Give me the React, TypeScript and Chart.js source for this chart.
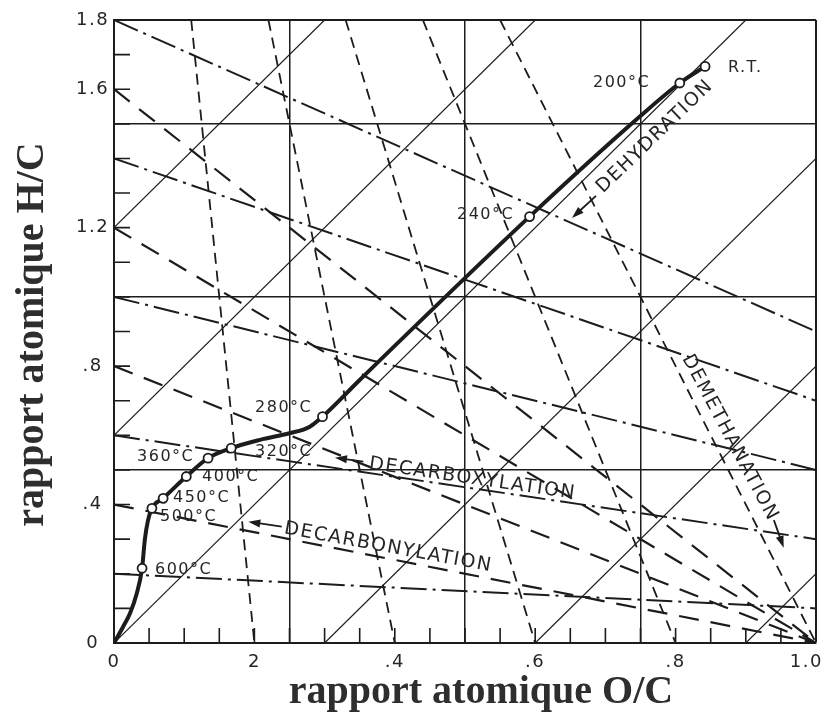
import React, { useEffect, useRef } from 'react';
import { Chart, registerables } from 'chart.js';

Chart.register(...registerables);

const INK = '#1c1c1c';
const TEXT = '#262626';
const X_MAX = 1.0;
const Y_MAX = 1.8;

// Thermal evolution path (O/C, H/C)
const pathOC = [0, 0.013, 0.023, 0.032, 0.040, 0.044, 0.048, 0.054, 0.070, 0.103, 0.134, 0.167, 0.208, 0.250, 0.279, 0.297, 0.350, 0.592, 0.749, 0.806, 0.842];
const pathHC = [0, 0.047, 0.087, 0.140, 0.216, 0.300, 0.350, 0.389, 0.418, 0.481, 0.534, 0.563, 0.587, 0.606, 0.625, 0.654, 0.760, 1.232, 1.521, 1.618, 1.666];

// Heating stages (open circles)
const stageNames = ['R.T.', '200°C', '240°C', '280°C', '320°C', '360°C', '400°C', '450°C', '500°C', '600°C'];
const stageOC = [0.842, 0.806, 0.592, 0.297, 0.167, 0.134, 0.103, 0.070, 0.054, 0.040];
const stageHC = [1.666, 1.618, 1.232, 0.654, 0.563, 0.534, 0.481, 0.418, 0.389, 0.216];
// caption anchors (left edge, vertical middle)
const captionOC = [0.8746, 0.6823, 0.4886, 0.2009, 0.2009, 0.0328, 0.1254, 0.0840, 0.0655, 0.0584];
const captionHC = [1.662, 1.6185, 1.237, 0.679, 0.552, 0.5376, 0.4798, 0.419, 0.364, 0.211];

// Reaction line families
const dehydrationIntercepts = [1.2, 0.6, 0, -0.6, -1.2, -1.8]; // H/C = 2·O/C + c
const decarboxylationStarts = [1.8, 1.4, 1.0, 0.6, 0.2]; // toward O/C = 2, H/C = 0
const DECARBOX_POLE = 2;
const decarbonylationStarts = [1.6, 1.2, 0.8, 0.4]; // toward O/C = 1, H/C = 0
const demethanationFeet = [0.2, 0.4, 0.6, 0.8, 1.0]; // from H/C = 4 at O/C = 0
const DEMETH_POLE = 4;

// Process captions and arrows
const processNames = ['DEHYDRATION', 'DECARBOXYLATION', 'DECARBONYLATION', 'DEMETHANATION'];
const processOC = [0.7707, 0.5107, 0.3907, 0.8775];
const processHC = [1.4633, 0.474, 0.276, 0.5925];
const processAngle = [-44, 8.3, 10.4, 62];
const arrowTailOC = [0.6866, 0.3552, 0.2389, 0.940];
const arrowTailHC = [1.292, 0.524, 0.336, 0.355];
const arrowHeadOC = [0.6524, 0.3148, 0.1913, 0.954];
const arrowHeadHC = [1.228, 0.5355, 0.3506, 0.275];

// Axis ticks
const xTickValues = [0, 0.05, 0.1, 0.15, 0.2, 0.25, 0.3, 0.35, 0.4, 0.45, 0.5, 0.55, 0.6, 0.65, 0.7, 0.75, 0.8, 0.85, 0.9, 0.95, 1.0];
const yTickValues = [0, 0.1, 0.2, 0.3, 0.4, 0.5, 0.6, 0.7, 0.8, 0.9, 1.0, 1.1, 1.2, 1.3, 1.4, 1.5, 1.6, 1.7, 1.8];
const xLabelValues = [0, 0.2, 0.4, 0.6, 0.8, 1.0];
const xLabels = ['0', '2', '.4', '.6', '.8', '1.0'];
const yLabelValues = [0, 0.4, 0.8, 1.2, 1.6, 1.8];
const yLabels = ['0', '.4', '.8', '1.2', '1.6', '1.8'];
const xGridValues = [0.25, 0.5, 0.75, 1.0];
const yGridValues = [0.5, 1.0, 1.5, 1.8];

const near = (a: number, b: number) => Math.abs(a - b) < 1e-6;
const labelFor = (vals: number[], labs: string[], v: number) => {
  const i = vals.findIndex((w) => near(w, v));
  return i >= 0 ? labs[i] : '';
};
const seg = (x1: number, y1: number, x2: number, y2: number) => [{ x: x1, y: y1 }, { x: x2, y: y2 }];

function dehydrationSeg(c: number) {
  const x0 = c < 0 ? -c / 2 : 0;
  const y0 = c < 0 ? 0 : c;
  let x1 = (Y_MAX - c) / 2;
  let y1 = Y_MAX;
  if (x1 > X_MAX) { x1 = X_MAX; y1 = 2 * X_MAX + c; }
  return seg(x0, y0, x1, y1);
}
const decarboxylationSeg = (h: number) => seg(0, h, X_MAX, h * (1 - X_MAX / DECARBOX_POLE));
const decarbonylationSeg = (h: number) => seg(0, h, 1, 0);
const demethanationSeg = (f: number) => seg(f * (1 - Y_MAX / DEMETH_POLE), Y_MAX, f, 0);

function lineSet(data: any[], dash: number[], width: number) {
  return {
    type: 'scatter' as const,
    data,
    showLine: true,
    borderColor: INK,
    borderWidth: width,
    borderDash: dash,
    pointRadius: 0,
    fill: false,
  };
}

const annotate = {
  id: 'annotate',
  beforeDraw(chart: any) {
    (chart.ctx as any).letterSpacing = '1.5px';
  },
  afterDatasetsDraw(chart: any) {
    const { ctx, chartArea, scales } = chart;
    const xs = scales.x;
    const ys = scales.y;
    ctx.save();
    // inner tick marks
    ctx.strokeStyle = INK;
    ctx.lineWidth = 1.6;
    ctx.setLineDash([]);
    ctx.beginPath();
    xTickValues.forEach((v) => {
      if (v <= 0 || v >= X_MAX) return;
      const px = xs.getPixelForValue(v);
      ctx.moveTo(px, chartArea.bottom);
      ctx.lineTo(px, chartArea.bottom - 15);
    });
    yTickValues.forEach((v) => {
      if (v <= 0 || v >= Y_MAX) return;
      const py = ys.getPixelForValue(v);
      ctx.moveTo(chartArea.left, py);
      ctx.lineTo(chartArea.left + 16, py);
    });
    ctx.stroke();

    // x tick labels (kept inside the canvas at the right end)
    ctx.fillStyle = TEXT;
    ctx.font = '18px "DejaVu Sans"';
    (ctx as any).letterSpacing = '1.5px';
    ctx.textAlign = 'center';
    ctx.textBaseline = 'middle';
    xLabelValues.forEach((v, i) => {
      const w = ctx.measureText(xLabels[i]).width;
      const px = Math.min(xs.getPixelForValue(v), chart.width - w / 2 - 5);
      ctx.fillText(xLabels[i], px, chartArea.bottom + 19);
    });

    // stage captions
    ctx.font = '16px "DejaVu Sans"';
    ctx.textAlign = 'left';
    stageNames.forEach((name, i) => {
      ctx.fillText(name, xs.getPixelForValue(captionOC[i]), ys.getPixelForValue(captionHC[i]));
    });

    // process captions
    ctx.font = '19px "DejaVu Sans"';
    ctx.textAlign = 'center';
    processNames.forEach((name, i) => {
      ctx.save();
      ctx.translate(xs.getPixelForValue(processOC[i]), ys.getPixelForValue(processHC[i]));
      ctx.rotate((processAngle[i] * Math.PI) / 180);
      ctx.fillText(name, 0, 0);
      ctx.restore();
    });

    // arrows
    ctx.strokeStyle = INK;
    ctx.fillStyle = INK;
    ctx.lineWidth = 1.8;
    processNames.forEach((_, i) => {
      const tx = xs.getPixelForValue(arrowTailOC[i]);
      const ty = ys.getPixelForValue(arrowTailHC[i]);
      const hx = xs.getPixelForValue(arrowHeadOC[i]);
      const hy = ys.getPixelForValue(arrowHeadHC[i]);
      const a = Math.atan2(hy - ty, hx - tx);
      const L = 12;
      const W = 4;
      ctx.beginPath();
      ctx.moveTo(tx, ty);
      ctx.lineTo(hx - Math.cos(a) * L * 0.7, hy - Math.sin(a) * L * 0.7);
      ctx.stroke();
      ctx.beginPath();
      ctx.moveTo(hx, hy);
      ctx.lineTo(hx - Math.cos(a) * L + Math.sin(a) * W, hy - Math.sin(a) * L - Math.cos(a) * W);
      ctx.lineTo(hx - Math.cos(a) * L - Math.sin(a) * W, hy - Math.sin(a) * L + Math.cos(a) * W);
      ctx.closePath();
      ctx.fill();
    });
    ctx.restore();
  },
  afterDraw(chart: any) {
    const { ctx, chartArea } = chart;
    ctx.save();
    (ctx as any).letterSpacing = '0px';
    ctx.fillStyle = '#2e2e2e';
    ctx.font = 'bold 40px "Liberation Serif"';
    ctx.textAlign = 'center';
    ctx.textBaseline = 'alphabetic';
    ctx.fillText('rapport atomique O/C', (chartArea.left + chartArea.right) / 2 + 16, chartArea.bottom + 60);
    ctx.translate(chartArea.left - 71, (chartArea.top + chartArea.bottom) / 2 + 3);
    ctx.rotate(-Math.PI / 2);
    ctx.fillText('rapport atomique H/C', 0, 0);
    ctx.restore();
  },
};

export default function App() {
  const ref = useRef<HTMLCanvasElement | null>(null);

  useEffect(() => {
    if (!ref.current) return;
    const datasets: any[] = [
      {
        type: 'scatter',
        data: stageOC.map((x, i) => ({ x, y: stageHC[i] })),
        pointRadius: 4.5,
        pointBackgroundColor: '#ffffff',
        pointBorderColor: INK,
        pointBorderWidth: 1.8,
        showLine: false,
      },
      {
        type: 'line',
        data: pathOC.map((x, i) => ({ x, y: pathHC[i] })),
        borderColor: INK,
        borderWidth: 4,
        pointRadius: 0,
        cubicInterpolationMode: 'monotone',
        fill: false,
      },
      ...dehydrationIntercepts.map((c) => lineSet(dehydrationSeg(c), [], 1.2)),
      ...decarboxylationStarts.map((h) => lineSet(decarboxylationSeg(h), [26, 6, 3, 6], 2)),
      ...decarbonylationStarts.map((h) => lineSet(decarbonylationSeg(h), [20, 12], 2.2)),
      ...demethanationFeet.map((f) => lineSet(demethanationSeg(f), [11, 7], 1.8)),
    ];

    const chart = new Chart(ref.current, {
      type: 'scatter',
      data: { datasets },
      options: {
        animation: false,
        responsive: false,
        layout: { padding: { top: 20, right: 12, left: 0, bottom: 0 } },
        plugins: { legend: { display: false }, tooltip: { enabled: false } },
        scales: {
          x: {
            type: 'linear',
            min: 0,
            max: X_MAX,
            afterBuildTicks: (s: any) => { s.ticks = xTickValues.map((v) => ({ value: v })); },
            afterFit: (s: any) => { s.height = 75; s.paddingLeft = 0; s.paddingRight = 0; },
            ticks: { display: false, autoSkip: false, maxRotation: 0 },
            grid: {
              drawTicks: false,
              color: (c: any) => (xGridValues.some((g) => near(g, c.tick?.value)) ? INK : 'rgba(0,0,0,0)'),
              lineWidth: (c: any) => (near(c.tick?.value, X_MAX) ? 2 : 1.5),
            },
            border: { display: true, color: INK, width: 2 },
          },
          y: {
            type: 'linear',
            min: 0,
            max: Y_MAX,
            afterBuildTicks: (s: any) => { s.ticks = yTickValues.map((v) => ({ value: v })); },
            afterFit: (s: any) => { s.width = 114; s.paddingTop = 0; s.paddingBottom = 0; },
            ticks: {
              autoSkip: false,
              padding: 7,
              crossAlign: 'center',
              color: TEXT,
              font: { family: 'DejaVu Sans', size: 18 },
              callback: (v: any) => labelFor(yLabelValues, yLabels, Number(v)),
            },
            grid: {
              drawTicks: false,
              color: (c: any) => (yGridValues.some((g) => near(g, c.tick?.value)) ? INK : 'rgba(0,0,0,0)'),
              lineWidth: (c: any) => (near(c.tick?.value, Y_MAX) ? 2 : 1.5),
            },
            border: { display: true, color: INK, width: 2 },
          },
        },
      },
      plugins: [annotate],
    } as any);

    return () => chart.destroy();
  }, []);

  return (
    <div style={{ position: 'absolute', left: 0, top: 0, width: 828, height: 718, background: '#ffffff' }}>
      <canvas ref={ref} width={828} height={718} />
    </div>
  );
}
